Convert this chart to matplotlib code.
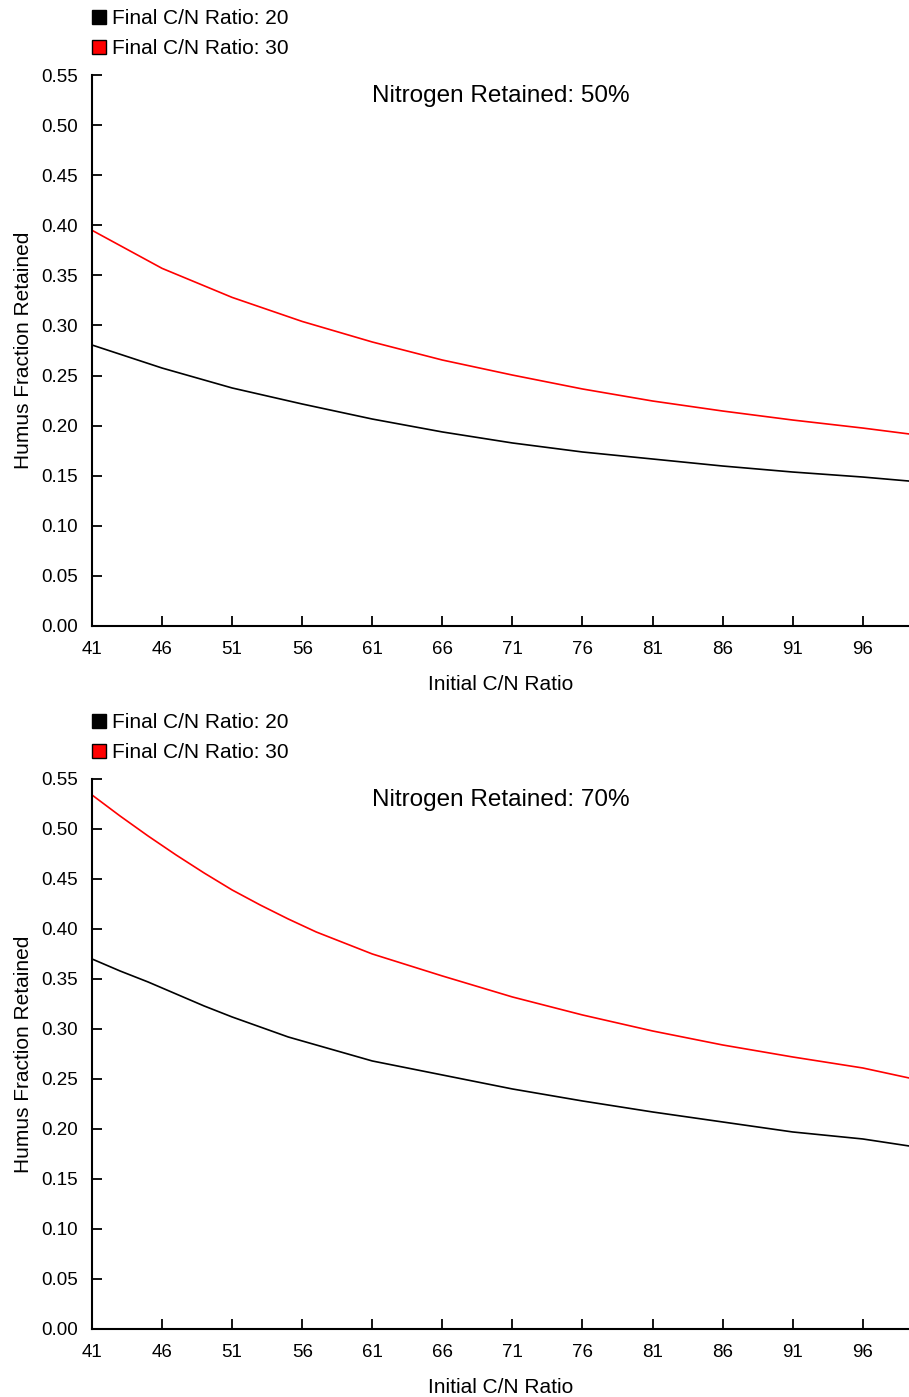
import matplotlib.pyplot as plt
from matplotlib.patches import Patch

plt.rcParams['font.family'] = ['Liberation Sans', 'DejaVu Sans']

# nitrogen retained 50% : initial C/N ratio and humus fraction for both final ratios
cn_50 = [41, 46, 51, 56, 61, 66, 71, 76, 81, 86, 91, 96, 99.3]
n50_cn20 = [0.2805, 0.2575, 0.2376, 0.2216, 0.2066, 0.1937, 0.1827, 0.1737,
            0.1667, 0.1597, 0.1537, 0.1487, 0.1447]
n50_cn30 = [0.395, 0.357, 0.328, 0.304, 0.2835, 0.2655, 0.2505, 0.2366,
            0.2246, 0.2146, 0.2056, 0.1976, 0.1917]

# nitrogen retained 70%
cn_70 = [41, 43, 45, 47, 49, 51, 53, 55, 57, 59, 61, 66, 71, 76, 81, 86, 91, 96, 99.3]
n70_cn20 = [0.370, 0.358, 0.347, 0.335, 0.323, 0.312, 0.302, 0.292, 0.284, 0.276,
            0.268, 0.254, 0.240, 0.228, 0.217, 0.207, 0.197, 0.190, 0.183]
n70_cn30 = [0.534, 0.513, 0.493, 0.474, 0.456, 0.439, 0.424, 0.410, 0.397, 0.386,
            0.375, 0.353, 0.332, 0.314, 0.298, 0.284, 0.272, 0.261, 0.251]

titles = ['Nitrogen Retained: 50%', 'Nitrogen Retained: 70%']
xticks = [41, 46, 51, 56, 61, 66, 71, 76, 81, 86, 91, 96]
yticks = [0.00, 0.05, 0.10, 0.15, 0.20, 0.25, 0.30, 0.35, 0.40, 0.45, 0.50, 0.55]

fig = plt.figure(figsize=(9.09, 13.97), dpi=100)
ax1 = fig.add_axes([92/909, 0.5519, 817/909, 0.3944])
ax2 = fig.add_axes([92/909, 0.0487, 817/909, 0.3937])

for ax, x, y20, y30, title in [(ax1, cn_50, n50_cn20, n50_cn30, titles[0]),
                               (ax2, cn_70, n70_cn20, n70_cn30, titles[1])]:
    ax.plot(x, y20, color='black', lw=1.2)
    ax.plot(x, y30, color='red', lw=1.2)
    ax.set_xlim(41, 99.3)
    ax.set_ylim(0, 0.55)
    ax.set_xticks(xticks)
    ax.set_yticks(yticks)
    ax.set_yticklabels(['%.2f' % v for v in yticks])
    ax.spines['top'].set_visible(False)
    ax.spines['right'].set_visible(False)
    ax.spines['left'].set_linewidth(1.5)
    ax.spines['bottom'].set_linewidth(1.5)
    ax.tick_params(direction='in', length=7, width=1.3, labelsize=13.5)
    ax.tick_params(axis='y', pad=10)
    ax.tick_params(axis='x', pad=11)
    ax.set_xlabel('Initial C/N Ratio', fontsize=15, labelpad=12)
    ax.set_ylabel('Humus Fraction Retained', fontsize=15, labelpad=6)
    ax.text(0.5, 0.962, title, transform=ax.transAxes, ha='center', va='center',
            fontsize=17.5)
    handles = [Patch(facecolor='black', edgecolor='black', label='Final C/N Ratio: 20'),
               Patch(facecolor='red', edgecolor='black', label='Final C/N Ratio: 30')]
    ax.legend(handles=handles, loc='lower left', bbox_to_anchor=(0, 1.03),
              frameon=False, fontsize=15, handlelength=0.67, handleheight=0.67,
              handletextpad=0.3, labelspacing=0.55, borderpad=0, borderaxespad=0)

fig.savefig('out.png', dpi=100)
